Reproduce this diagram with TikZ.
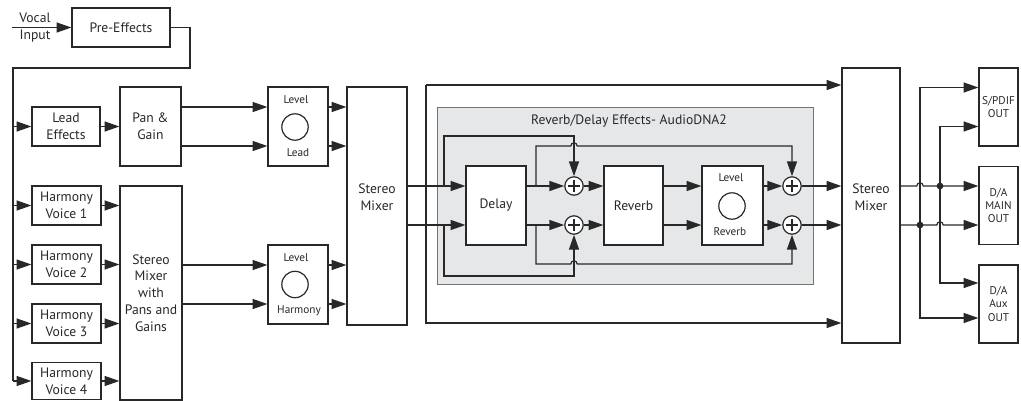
\documentclass[tikz,border=0pt]{standalone}
\usepackage{fontspec}
\setmainfont{PT Sans}
\usetikzlibrary{arrows.meta}
\definecolor{ink}{RGB}{40,40,40}
\definecolor{fxgray}{RGB}{230,231,232}

\begin{document}
\begin{tikzpicture}[x=0.25mm, y=-0.25mm, line width=0.85pt, color=ink,
		>={Triangle[length=3.7mm,width=2.5mm]},
		blk/.style={rectangle, draw, fill=white, align=center, inner sep=0pt, font=\fontsize{9.7}{12}\selectfont},
		txt/.style={align=center, inner sep=0pt, font=\fontsize{9.7}{12}\selectfont},
		sml/.style={align=center, inner sep=0pt, font=\fontsize{8}{9}\selectfont},
		knob/.style={circle, draw, minimum size=6.6mm, inner sep=0pt},
		adder/.style={circle, draw, fill=white, minimum size=4.6mm, inner sep=0pt, path picture={
			\draw ([xshift=-1.5mm]path picture bounding box.center) -- ([xshift=1.5mm]path picture bounding box.center)
			([yshift=-1.5mm]path picture bounding box.center) -- ([yshift=1.5mm]path picture bounding box.center);}},
		jdot/.style={circle, fill, minimum size=1.7mm, inner sep=0pt}]
		\useasboundingbox (0,0) rectangle (1021,400);

		\draw
		(625, 195.5) node [rectangle, draw=black!55, fill=fxgray, line width=0.6pt, minimum width=94mm, minimum height=44.25mm] (fx) {}
		(629, 121) node [txt] (fxtitle) {Reverb/Delay Effects- AudioDNA2};

		\draw
		(35, 18) node [txt] (vocal) {Vocal}
		(35, 36) node [txt] (input) {Input}
		(121, 27.5) node [blk, minimum width=24.5mm, minimum height=9.75mm] (pre) {Pre-Effects}
		(66, 126.5) node [blk, minimum width=17mm, minimum height=9.75mm] (lead) {Lead\\Effects}
		(150.5, 126.5) node [blk, minimum width=15.25mm, minimum height=19.75mm] (pan) {Pan \&\\Gain};

		\draw
		(66.5, 205.5) node [blk, minimum width=17.25mm, minimum height=9.75mm] (hv1) {Harmony\\Voice 1}
		(66.5, 264.5) node [blk, minimum width=17.25mm, minimum height=9.75mm] (hv2) {Harmony\\Voice 2}
		(66.5, 323.5) node [blk, minimum width=17.25mm, minimum height=9.75mm] (hv3) {Harmony\\Voice 3}
		(66.5, 381) node [blk, minimum width=17.25mm, minimum height=9.25mm] (hv4) {Harmony\\Voice 4}
		(151, 293) node [blk, minimum width=15.5mm, minimum height=53.5mm] (mixh) {Stereo\\Mixer\\with\\Pans and\\Gains};

		\draw
		(298, 126.5) node [blk, minimum width=15mm, minimum height=19.75mm] (lvl) {}
		(296, 100) node [sml] (lvltop) {Level}
		(295, 127) node [knob] (lvlknob) {}
		(298, 153) node [sml] (lvlname) {Lead}
		(298, 284.5) node [blk, minimum width=15mm, minimum height=19.75mm] (lvh) {}
		(296, 258) node [sml] (lvhtop) {Level}
		(295, 284.5) node [knob] (lvhknob) {}
		(299, 311) node [sml] (lvhname) {Harmony};

		\draw
		(377, 206) node [blk, minimum width=15mm, minimum height=59.5mm] (mix1) {}
		(377, 197) node [txt] (mix1txt) {Stereo\\Mixer};

		\draw
		(496, 205.5) node [blk, minimum width=15mm, minimum height=19.75mm] (delay) {Delay}
		(574, 186) node [adder] (addA) {}
		(574, 225) node [adder] (addB) {}
		(633.5, 205.5) node [blk, minimum width=14.75mm, minimum height=19.75mm] (reverb) {Reverb}
		(732.5, 205.5) node [blk, minimum width=15.25mm, minimum height=19.75mm] (lvr) {}
		(731, 178) node [sml] (lvrtop) {Level}
		(732, 206) node [knob] (lvrknob) {}
		(730, 232) node [sml] (lvrname) {Reverb}
		(792, 186) node [adder] (addC) {}
		(792, 225) node [adder] (addD) {};

		\draw
		(871, 205.5) node [blk, minimum width=14.5mm, minimum height=68.75mm] (mix2) {}
		(871, 197.5) node [txt] (mix2txt) {Stereo\\Mixer}
		(998.5, 107) node [blk, minimum width=9.75mm, minimum height=19.5mm, font=\fontsize{8}{9.5}\selectfont] (spdif) {S/PDIF\\OUT}
		(998.5, 205.5) node [blk, minimum width=9.75mm, minimum height=19.5mm, font=\fontsize{8}{9.5}\selectfont] (dmain) {D/A\\MAIN\\OUT}
		(998.5, 304) node [blk, minimum width=9.75mm, minimum height=19.5mm, font=\fontsize{8}{9.5}\selectfont] (daux) {D/A\\Aux\\OUT};

		\coordinate (vin) at (12, 27.5);
		\coordinate (preturn) at (190, 68);
		\coordinate (busTop) at (13, 68);
		\coordinate (busBot) at (13, 381);
		\draw[->] (vin) -- (pre);
		\draw (pre.east) -| (preturn) -- (busTop) -- (busBot);
		\draw[->] (busTop |- lead) -- (lead);
		\draw[->] (busTop |- hv1) -- (hv1);
		\draw[->] (busTop |- hv2) -- (hv2);
		\draw[->] (busTop |- hv3) -- (hv3);
		\draw[->] (busBot) -- (hv4);
		\draw[->] (lead) -- (pan);
		\draw[->] (hv1) -- (mixh.west |- hv1);
		\draw[->] (hv2) -- (mixh.west |- hv2);
		\draw[->] (hv3) -- (mixh.west |- hv3);
		\draw[->] (hv4) -- (mixh.west |- hv4);

		\coordinate (lvlA) at ([yshift=4.875mm]lvl.west);
		\coordinate (lvlB) at ([yshift=-4.875mm]lvl.west);
		\coordinate (lvhA) at ([yshift=4.875mm]lvh.west);
		\coordinate (lvhB) at ([yshift=-4.875mm]lvh.west);
		\draw[->] (pan.east |- lvlA) -- (lvlA);
		\draw[->] (pan.east |- lvlB) -- (lvlB);
		\draw[->] (mixh.east |- lvhA) -- (lvhA);
		\draw[->] (mixh.east |- lvhB) -- (lvhB);
		\draw[->] (lvl.east |- lvlA) -- (mix1.west |- lvlA);
		\draw[->] (lvl.east |- lvlB) -- (mix1.west |- lvlB);
		\draw[->] (lvh.east |- lvhA) -- (mix1.west |- lvhA);
		\draw[->] (lvh.east |- lvhB) -- (mix1.west |- lvhB);

		\coordinate (byTop) at (426, 85);
		\coordinate (byBot) at (426, 323);
		\draw[->] (byTop) -- (byBot) -- (mix2.west |- byBot);
		\draw[->] (byTop) -- (mix2.west |- byTop);
		\draw[->] (mix1.east |- addA) -- (delay.west |- addA);
		\draw[->] (mix1.east |- addB) -- (delay.west |- addB);

		\coordinate (fbL1) at (444, 186);
		\coordinate (fbL2) at (444, 225);
		\coordinate (fbR1) at (536, 186);
		\coordinate (fbR2) at (536, 225);
		\coordinate (fbA) at (444, 136);
		\coordinate (fbC) at (444, 276);
		\coordinate (hopB) at (574, 146);
		\coordinate (hopD) at (574, 264);
		\draw[->] (fbL1) -- (fbA) -| (addA);
		\draw[->] (fbL2) -- (fbC) -| (addB);
		\draw[->] (fbR1) |- ([xshift=-0.8mm]hopB) arc[start angle=180, end angle=0, radius=0.8mm] -| (addC);
		\draw[->] (fbR2) |- ([xshift=-0.8mm]hopD) arc[start angle=180, end angle=0, radius=0.8mm] -| (addD);

		\draw[->] (delay.east |- addA) -- (addA);
		\draw[->] (delay.east |- addB) -- (addB);
		\draw[->] (addA) -- (reverb.west |- addA);
		\draw[->] (addB) -- (reverb.west |- addB);
		\draw[->] (reverb.east |- addA) -- (lvr.west |- addA);
		\draw[->] (reverb.east |- addB) -- (lvr.west |- addB);
		\draw[->] (lvr.east |- addC) -- (addC);
		\draw[->] (lvr.east |- addD) -- (addD);
		\draw[->] (addC) -- (mix2.west |- addC);
		\draw[->] (addD) -- (mix2.west |- addD);

		\coordinate (jA) at (920, 225);
		\coordinate (jB) at (940, 186);
		\coordinate (hR1) at (920, 186);
		\coordinate (hR2) at (940, 225);
		\coordinate (sp1) at ([yshift=4.875mm]spdif.west);
		\coordinate (sp2) at ([yshift=-4.875mm]spdif.west);
		\coordinate (ax1) at ([yshift=5.25mm]daux.west);
		\coordinate (ax2) at ([yshift=-3.5mm]daux.west);
		\draw[->] (jA) |- (sp1);
		\draw[->] (jA) |- (ax2);
		\draw[->] (jB) |- (sp2);
		\draw[->] (jB) |- (ax1);
		\draw[->] (mix2.east |- jB) -- ([xshift=-0.8mm]hR1) arc[start angle=180, end angle=0, radius=0.8mm] -- (dmain.west |- jB);
		\draw[->] (mix2.east |- jA) -- ([xshift=-0.8mm]hR2) arc[start angle=180, end angle=0, radius=0.8mm] -- (dmain.west |- jA);
		\node[jdot] (dotA) at (jA) {};
		\node[jdot] (dotB) at (jB) {};
	\end{tikzpicture}
\end{document}
